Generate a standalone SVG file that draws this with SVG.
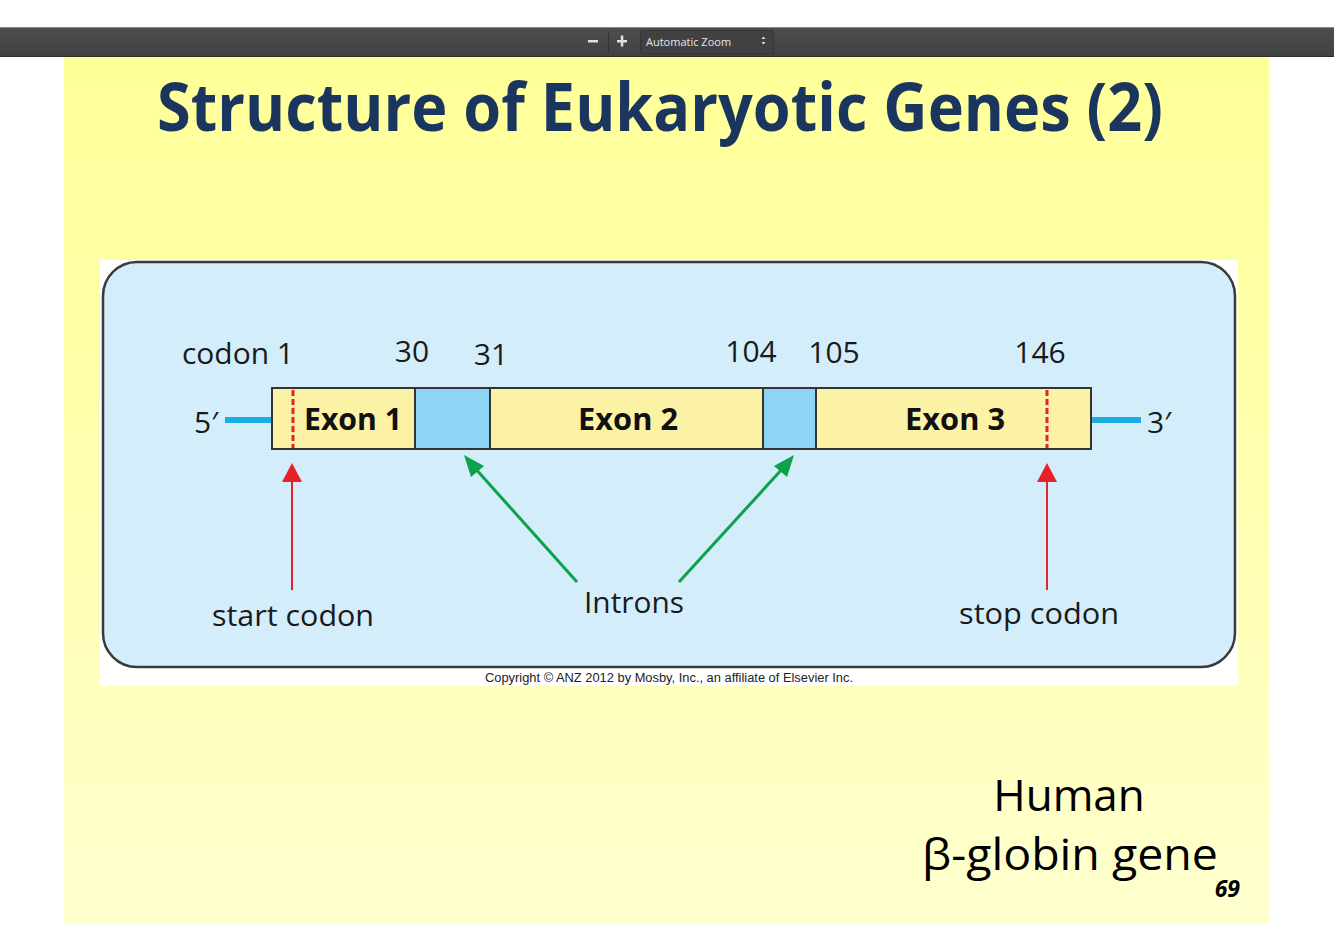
<svg xmlns="http://www.w3.org/2000/svg" width="1334" height="942" viewBox="0 0 1334 942">
<defs>
<linearGradient id="page" x1="0" y1="0" x2="0" y2="1">
<stop offset="0" stop-color="#FFFF99"/>
<stop offset="0.5" stop-color="#FFFFB0"/>
<stop offset="1" stop-color="#FFFFCF"/>
</linearGradient>
<linearGradient id="bar" x1="0" y1="0" x2="0" y2="1">
<stop offset="0" stop-color="#4e4e4e"/>
<stop offset="1" stop-color="#404040"/>
</linearGradient>
<style>
.lbl{font-family:"Open Sans","Noto Sans",sans-serif;font-size:30px;fill:#1a1a1a}
.exon{font-family:"Open Sans","Noto Sans",sans-serif;font-size:31px;font-weight:bold;fill:#111}
.ex{fill:#FCF2A6;stroke:#333;stroke-width:2}
.in{fill:#8ED5F5;stroke:#333;stroke-width:2}
.dash{stroke:#E8202A;stroke-width:3;stroke-dasharray:6,3}
.red{stroke:#E8202A;stroke-width:2;fill:none}
.green{stroke:#0DA24A;stroke-width:3;fill:none}
.tail{stroke:#1BAEE5;stroke-width:6}
.slide{font-family:"Open Sans","Noto Sans",sans-serif;fill:#000}
</style>
</defs>
<rect x="0" y="0" width="1334" height="942" fill="#ffffff"/>
<g id="toolbar">
<rect x="0" y="27" width="1334" height="30" fill="url(#bar)"/>
<rect x="0" y="27" width="1334" height="1" fill="#8a8a8a"/>
<rect x="0" y="56" width="1334" height="1" fill="#2e2e2e"/>
<rect x="588" y="40" width="10" height="2.5" fill="#e0e0e0"/>
<rect x="608" y="31" width="1" height="22" fill="#333"/>
<rect x="617" y="40" width="10" height="2.5" fill="#e0e0e0"/>
<rect x="620.8" y="35.5" width="2.5" height="11" fill="#e0e0e0"/>
<rect x="640.5" y="30.5" width="133" height="23" rx="2" fill="#414141" stroke="#353535"/>
<text x="646" y="46" font-family="'Open Sans','Noto Sans',sans-serif" font-size="11" fill="#e6e6e6">Automatic Zoom</text>
<path d="M761.5,39 L763.5,36.5 L765.5,39 z M761.5,42 L763.5,44.5 L765.5,42 z" fill="#e0e0e0"/>
</g>
<rect id="page-bg" x="64" y="57" width="1205" height="867" fill="url(#page)"/>
<text id="title" x="660" y="131" text-anchor="middle" font-family="'Open Sans','Noto Sans',sans-serif" font-weight="bold" font-size="66" fill="#1B365E" textLength="1006" lengthAdjust="spacingAndGlyphs">Structure of Eukaryotic Genes (2)</text>
<g id="figure">
<rect x="100" y="260" width="1138" height="426" fill="#ffffff"/>
<rect x="103" y="262" width="1132" height="405" rx="34" ry="34" fill="#D3EDFA" stroke="#3a3a3a" stroke-width="2.5"/>
<text x="669" y="682" text-anchor="middle" font-family="'Liberation Sans',Arial,sans-serif" font-size="12" fill="#222" textLength="368" lengthAdjust="spacingAndGlyphs">Copyright © ANZ 2012 by Mosby, Inc., an affiliate of Elsevier Inc.</text>
</g>
<g id="tails">
<line class="tail" x1="225" y1="420" x2="272" y2="420"/>
<line class="tail" x1="1091" y1="420" x2="1141" y2="420"/>
<text class="lbl" x="194" y="433">5′</text>
<text class="lbl" x="1147" y="433">3′</text>
</g>
<g id="exon1">
<rect class="ex" x="272" y="388" width="143" height="61"/>
<text class="exon" x="353" y="430" text-anchor="middle" textLength="98" lengthAdjust="spacingAndGlyphs">Exon 1</text>
</g>
<g id="intron1"><rect class="in" x="415" y="388" width="75" height="61"/></g>
<g id="exon2">
<rect class="ex" x="490" y="388" width="273" height="61"/>
<text class="exon" x="628" y="430" text-anchor="middle" textLength="100" lengthAdjust="spacingAndGlyphs">Exon 2</text>
</g>
<g id="intron2"><rect class="in" x="763" y="388" width="53" height="61"/></g>
<g id="exon3">
<rect class="ex" x="816" y="388" width="275" height="61"/>
<text class="exon" x="955" y="430" text-anchor="middle" textLength="100" lengthAdjust="spacingAndGlyphs">Exon 3</text>
</g>
<g id="codon-markers">
<line class="dash" x1="293" y1="390" x2="293" y2="448"/>
<line class="dash" x1="1047" y1="390" x2="1047" y2="448"/>
</g>
<g id="numbers">
<text class="lbl" x="182" y="364" textLength="112" lengthAdjust="spacingAndGlyphs">codon 1</text>
<text class="lbl" x="412" y="362" text-anchor="middle">30</text>
<text class="lbl" x="491" y="365" text-anchor="middle">31</text>
<text class="lbl" x="751" y="362" text-anchor="middle">104</text>
<text class="lbl" x="834" y="363" text-anchor="middle">105</text>
<text class="lbl" x="1040" y="363" text-anchor="middle">146</text>
</g>
<g id="connectors">
<line class="red" x1="292" y1="590" x2="292" y2="480"/>
<path d="M282,482 L292,463 L302,482 z" fill="#E8202A"/>
<line class="red" x1="1047" y1="590" x2="1047" y2="480"/>
<path d="M1037,482 L1047,463 L1057,482 z" fill="#E8202A"/>
<line class="green" x1="577" y1="582" x2="474" y2="467"/>
<path d="M464,455 L484,466 L471,477 z" fill="#0DA24A"/>
<line class="green" x1="679" y1="582" x2="784" y2="467"/>
<path d="M794,455 L787,477 L774,466 z" fill="#0DA24A"/>
</g>
<g id="labels">
<text class="lbl" x="293" y="626" text-anchor="middle" textLength="162" lengthAdjust="spacingAndGlyphs">start codon</text>
<text class="lbl" x="634" y="613" text-anchor="middle" textLength="100" lengthAdjust="spacingAndGlyphs">Introns</text>
<text class="lbl" x="1039" y="624" text-anchor="middle" textLength="160" lengthAdjust="spacingAndGlyphs">stop codon</text>
</g>
<g id="caption">
<text class="slide" x="1069" y="811" text-anchor="middle" font-size="44">Human</text>
<text class="slide" x="1070" y="870" text-anchor="middle" font-size="44" textLength="296" lengthAdjust="spacingAndGlyphs">β-globin gene</text>
<text x="1240" y="897" text-anchor="end" font-family="'Open Sans','Noto Sans',sans-serif" font-size="23" font-weight="bold" font-style="italic" fill="#000">69</text>
</g>
</svg>
